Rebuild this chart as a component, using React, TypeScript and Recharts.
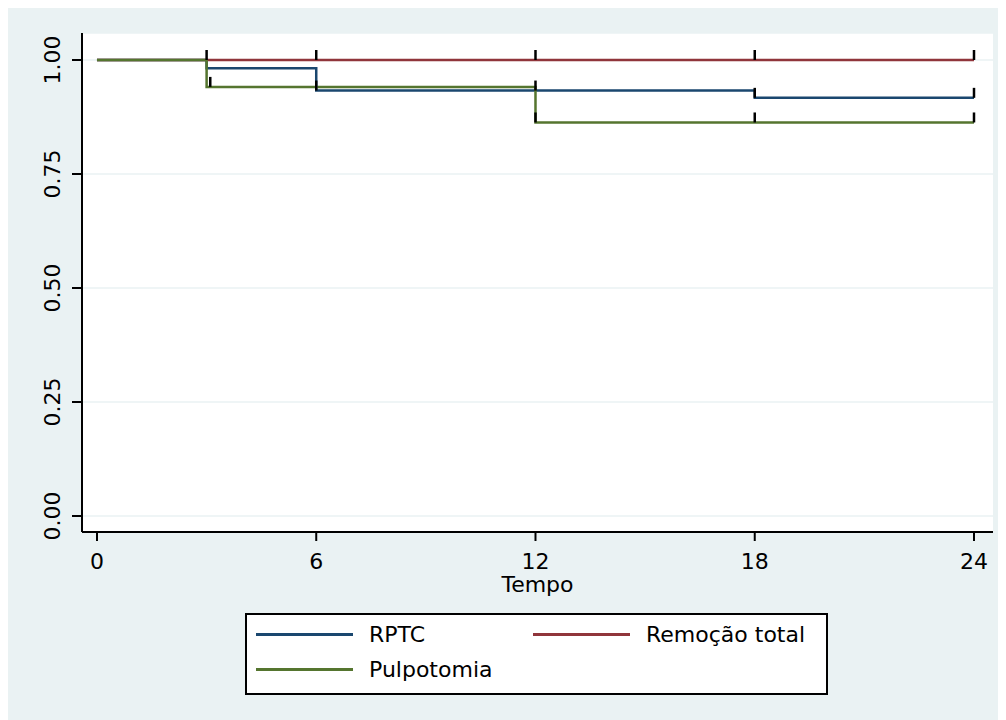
import {
  CartesianGrid,
  ComposedChart,
  Legend,
  Line,
  Scatter,
  XAxis,
  YAxis,
} from "recharts";

// Kaplan-Meier survival estimates (time in months)
const rptcTime = [0, 3, 6, 18, 24];
const rptcSurv = [1, 0.982, 0.933, 0.917, 0.917];
const remocaoTime = [0, 24];
const remocaoSurv = [1, 1];
const pulpTime = [0, 3, 12, 24];
const pulpSurv = [1, 0.941, 0.863, 0.863];

// censored observations
const rptcCensorTime = [6, 12, 18, 24];
const rptcCensorSurv = [0.933, 0.933, 0.917, 0.917];
const remocaoCensorTime = [3, 6, 12, 18, 24];
const remocaoCensorSurv = [1, 1, 1, 1, 1];
const pulpCensorTime = [3.1, 12, 18, 24];
const pulpCensorSurv = [0.941, 0.863, 0.863, 0.863];

const groups = ["RPTC", "Remoção total", "Pulpotomia"];
const xTicks = [0, 6, 12, 18, 24];
const yTicks = [0, 0.25, 0.5, 0.75, 1];

const toPoints = (t: number[], s: number[]) => t.map((v, i) => ({ t: v, s: s[i] }));

const FONT = "'DejaVu Sans', sans-serif";
const BG = "#eaf2f3";

const CensorMark = (props: any) => {
  const { cx, cy } = props;
  if (cx == null || cy == null) return null;
  return <line x1={cx} y1={cy - 10} x2={cx} y2={cy} stroke="#000" strokeWidth={2.5} />;
};

const YTick = (props: any) => {
  const { x, y, payload } = props;
  return (
    <text
      x={x}
      y={y}
      transform={`rotate(-90, ${x}, ${y})`}
      textAnchor="middle"
      fontSize={22}
      fontFamily={FONT}
      fill="#000"
    >
      {Number(payload.value).toFixed(2)}
    </text>
  );
};

const renderLegend = (props: any) => {
  const items = (props.payload || [])
    .filter((p: any) => p.type !== "none" && groups.includes(p.value))
    .sort((a: any, b: any) => groups.indexOf(a.value) - groups.indexOf(b.value));
  return (
    <div
      style={{
        boxSizing: "border-box",
        width: 583,
        height: 82,
        background: "#fff",
        border: "2px solid #000",
        padding: "2px 0 0 9px",
        display: "grid",
        gridTemplateColumns: "277px 1fr",
        gridAutoRows: "35px",
        fontFamily: FONT,
        fontSize: 22,
        color: "#000",
      }}
    >
      {items.map((p: any) => (
        <div key={p.value} style={{ display: "flex", alignItems: "center" }}>
          <span style={{ display: "inline-block", width: 97, height: 2.5, background: p.color, marginRight: 16 }} />
          <span>{p.value}</span>
        </div>
      ))}
    </div>
  );
};

export default function App() {
  return (
    <div style={{ width: 998, height: 712, background: BG, fontFamily: FONT }}>
      <ComposedChart width={998} height={712} margin={{ top: 25, right: 13, bottom: 128, left: 14 }}>
        <CartesianGrid vertical={false} stroke={BG} strokeWidth={1.5} fill="#ffffff" />
        <XAxis
          type="number"
          dataKey="t"
          domain={[-0.41, 24.52]}
          ticks={xTicks}
          interval={0}
          allowDataOverflow
          height={60}
          tickSize={9}
          tickMargin={12}
          axisLine={{ stroke: "#000", strokeWidth: 2 }}
          tickLine={{ stroke: "#000", strokeWidth: 2 }}
          tick={{ fontSize: 22, fill: "#000", fontFamily: FONT }}
          label={{ value: "Tempo", position: "insideBottom", offset: 0, fontSize: 22, fill: "#000", fontFamily: FONT }}
        />
        <YAxis
          type="number"
          domain={[-0.0351, 1.0592]}
          ticks={yTicks}
          interval={0}
          allowDataOverflow
          width={60}
          tickSize={10}
          tickMargin={12}
          axisLine={{ stroke: "#000", strokeWidth: 2 }}
          tickLine={{ stroke: "#000", strokeWidth: 2 }}
          tick={<YTick />}
        />
        <Legend
          layout="horizontal"
          verticalAlign="middle"
          align="center"
          wrapperStyle={{ left: 237, top: 605, width: 583, height: 82 }}
          content={renderLegend}
        />
        <Line
          data={toPoints(rptcTime, rptcSurv)}
          dataKey="s"
          name={groups[0]}
          type="stepAfter"
          stroke="#1a476f"
          strokeWidth={2.5}
          dot={false}
          activeDot={false}
          isAnimationActive={false}
        />
        <Line
          data={toPoints(remocaoTime, remocaoSurv)}
          dataKey="s"
          name={groups[1]}
          type="stepAfter"
          stroke="#90353b"
          strokeWidth={2.5}
          dot={false}
          activeDot={false}
          isAnimationActive={false}
        />
        <Line
          data={toPoints(pulpTime, pulpSurv)}
          dataKey="s"
          name={groups[2]}
          type="stepAfter"
          stroke="#55752f"
          strokeWidth={2.5}
          dot={false}
          activeDot={false}
          isAnimationActive={false}
        />
        <Scatter data={toPoints(rptcCensorTime, rptcCensorSurv)} dataKey="s" legendType="none" shape={<CensorMark />} isAnimationActive={false} />
        <Scatter data={toPoints(remocaoCensorTime, remocaoCensorSurv)} dataKey="s" legendType="none" shape={<CensorMark />} isAnimationActive={false} />
        <Scatter data={toPoints(pulpCensorTime, pulpCensorSurv)} dataKey="s" legendType="none" shape={<CensorMark />} isAnimationActive={false} />
      </ComposedChart>
    </div>
  );
}
